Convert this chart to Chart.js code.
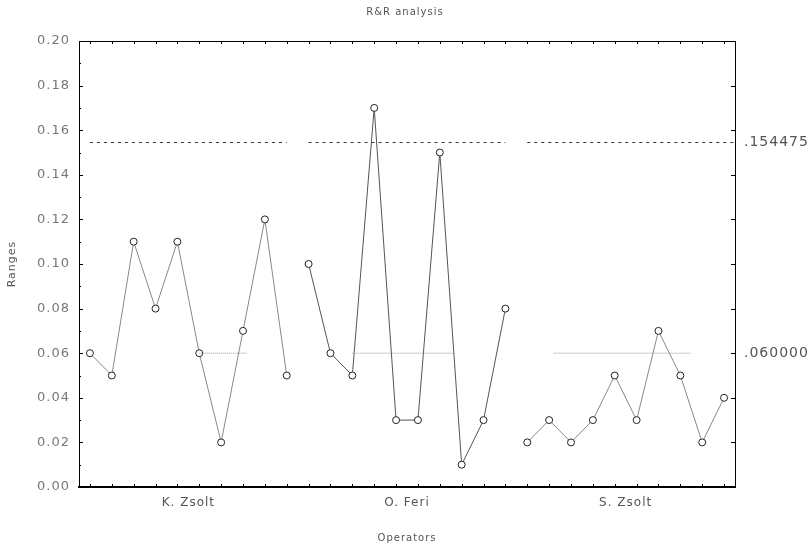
<!DOCTYPE html>
<html>
<head>
<meta charset="utf-8">
<script src="https://cdn.jsdelivr.net/npm/chart.js@4/dist/chart.umd.min.js"></script>
<style>
  html, body { margin: 0; padding: 0; background: #fff; }
  #wrap { width: 810px; height: 544px; }
</style>
</head>
<body>
<div id="wrap"><canvas id="rr" width="810" height="544"></canvas></div>
<script>
// R&R analysis - range chart, 10 parts per operator
var operators = ['K. Zsolt', 'O. Feri', 'S. Zsolt'];
var rangesK = [0.06, 0.05, 0.11, 0.08, 0.11, 0.06, 0.02, 0.07, 0.12, 0.05];
var rangesO = [0.10, 0.06, 0.05, 0.17, 0.03, 0.03, 0.15, 0.01, 0.03, 0.08];
var rangesS = [0.02, 0.03, 0.02, 0.03, 0.05, 0.03, 0.07, 0.05, 0.02, 0.04];
var ucl = 0.154475;
var centerLine = 0.06;
var yTicks = [0, 0.02, 0.04, 0.06, 0.08, 0.10, 0.12, 0.14, 0.16, 0.18, 0.20];
var yMinorTicks = [0.01, 0.03, 0.05, 0.07, 0.09, 0.11, 0.13, 0.15, 0.17, 0.19];

var perOp = 10;
var fontName = '"DejaVu Sans", "Liberation Sans", sans-serif';

//turn a list of values into {x,y} points for operator number k
function toPoints(values, k){
  return values.map(function(v, i){ return {x: k * perOp + i, y: v}; });
}
//horizontal limit segment from index a to b
function segment(value, a, b){
  return [{x: a, y: value}, {x: b, y: value}];
}

var lineStyle = function(color){
  return {
    borderColor: color,
    borderWidth: 1,
    pointRadius: 3.5,
    pointBackgroundColor: '#fff',
    pointBorderColor: '#222',
    pointBorderWidth: 1,
    tension: 0
  };
};
var limitStyle = function(color, dash){
  return {
    borderColor: color,
    borderWidth: 1,
    borderDash: dash,
    pointRadius: 0,
    tension: 0
  };
};

var datasets = [
  Object.assign({data: segment(ucl, 0, 9)}, limitStyle('#333', [3, 4])),
  Object.assign({data: segment(ucl, 10, 19)}, limitStyle('#333', [3, 4])),
  Object.assign({data: segment(ucl, 20, 29.5)}, limitStyle('#333', [3, 4])),
  Object.assign({data: segment(centerLine, 5, 7.2)}, limitStyle('#999', [1, 1])),
  Object.assign({data: segment(centerLine, 12, 16.6)}, limitStyle('#999', [1, 1])),
  Object.assign({data: segment(centerLine, 21.2, 27.5)}, limitStyle('#999', [1, 1])),
  Object.assign({data: toPoints(rangesK, 0)}, lineStyle('#888')),
  Object.assign({data: toPoints(rangesO, 1)}, lineStyle('#555')),
  Object.assign({data: toPoints(rangesS, 2)}, lineStyle('#888'))
];

//the old plotting program spaces its letters out a bit
var spacedText = {
  id: 'spacedText',
  beforeDraw: function(c){ c.ctx.letterSpacing = '1px'; }
};

//small tick marks pointing into the plot box, placed through the scales
var innerTicks = {
  id: 'innerTicks',
  afterDraw: function(c){
    var a = c.chartArea, ctx = c.ctx;
    var xs = c.scales.x, yl = c.scales.y;
    ctx.save();
    ctx.strokeStyle = '#000';
    ctx.lineWidth = 1;
    ctx.beginPath();
    // top frame line
    ctx.moveTo(a.left, a.top + 0.5);
    ctx.lineTo(a.right, a.top + 0.5);
    // left and right: major and minor
    yTicks.forEach(function(v){
      var py = Math.round(yl.getPixelForValue(v)) + 0.5;
      ctx.moveTo(a.left, py); ctx.lineTo(a.left + 4, py);
      ctx.moveTo(a.right, py); ctx.lineTo(a.right - 4, py);
    });
    yMinorTicks.forEach(function(v){
      var py = Math.round(yl.getPixelForValue(v)) + 0.5;
      ctx.moveTo(a.left, py); ctx.lineTo(a.left + 2, py);
    });
    // top and bottom: one per part
    for(var i = 0; i < operators.length * perOp; i++){
      var px = Math.round(xs.getPixelForValue(i)) + 0.5;
      ctx.moveTo(px, a.top); ctx.lineTo(px, a.top + 3);
      ctx.moveTo(px, a.bottom); ctx.lineTo(px, a.bottom - 3);
    }
    ctx.stroke();
    ctx.restore();
  }
};

var chart = new Chart(document.getElementById('rr'), {
  type: 'line',
  data: { datasets: datasets },
  options: {
    responsive: false,
    animation: false,
    plugins: {
      legend: { display: false },
      tooltip: { enabled: false },
      title: {
        display: true,
        text: 'R&R analysis',
        color: '#555',
        font: { family: fontName, size: 10, weight: 'normal' },
        padding: { top: 6, bottom: 23 }
      }
    },
    scales: {
      x: {
        type: 'linear',
        min: -0.5,
        max: 29.5,
        grid: { display: false, drawTicks: false },
        border: { display: true, color: '#000', width: 2 },
        afterBuildTicks: function(scale){
          scale.ticks = operators.map(function(o, k){ return {value: k * perOp + 4.5}; });
        },
        ticks: {
          autoSkip: false,
          maxRotation: 0,
          padding: 9,
          color: '#555',
          font: { family: fontName, size: 12 },
          callback: function(v){ return operators[Math.round((v - 4.5) / perOp)]; }
        },
        title: {
          display: true,
          text: 'Operators',
          color: '#555',
          font: { family: fontName, size: 10 },
          padding: { top: 12, bottom: 0 }
        },
        afterFit: function(scale){ scale.height = 57; }
      },
      y: {
        position: 'left',
        min: 0,
        max: 0.2,
        grid: { display: false },
        border: { display: true, color: '#000', width: 1 },
        afterBuildTicks: function(scale){
          scale.ticks = yTicks.map(function(v){ return {value: v}; });
        },
        ticks: {
          padding: 1,
          color: '#777',
          font: { family: fontName, size: 13 },
          callback: function(v){ return v.toFixed(2); }
        },
        title: {
          display: true,
          text: 'Ranges',
          color: '#555',
          font: { family: fontName, size: 11 },
          padding: { top: 6, bottom: 4 }
        },
        afterFit: function(scale){ scale.width = 79; }
      },
      yRight: {
        position: 'right',
        min: 0,
        max: 0.2,
        grid: { display: false, drawOnChartArea: false, tickLength: 8 },
        border: { display: true, color: '#000', width: 1 },
        afterBuildTicks: function(scale){
          scale.ticks = [{value: centerLine}, {value: ucl}];
        },
        ticks: {
          padding: 1,
          color: '#555',
          font: { family: fontName, size: 14 },
          callback: function(v){ return v.toFixed(6).replace(/^0/, ''); }
        },
        afterFit: function(scale){ scale.width = 75; }
      }
    }
  },
  plugins: [spacedText, innerTicks]
});
</script>
</body>
</html>
